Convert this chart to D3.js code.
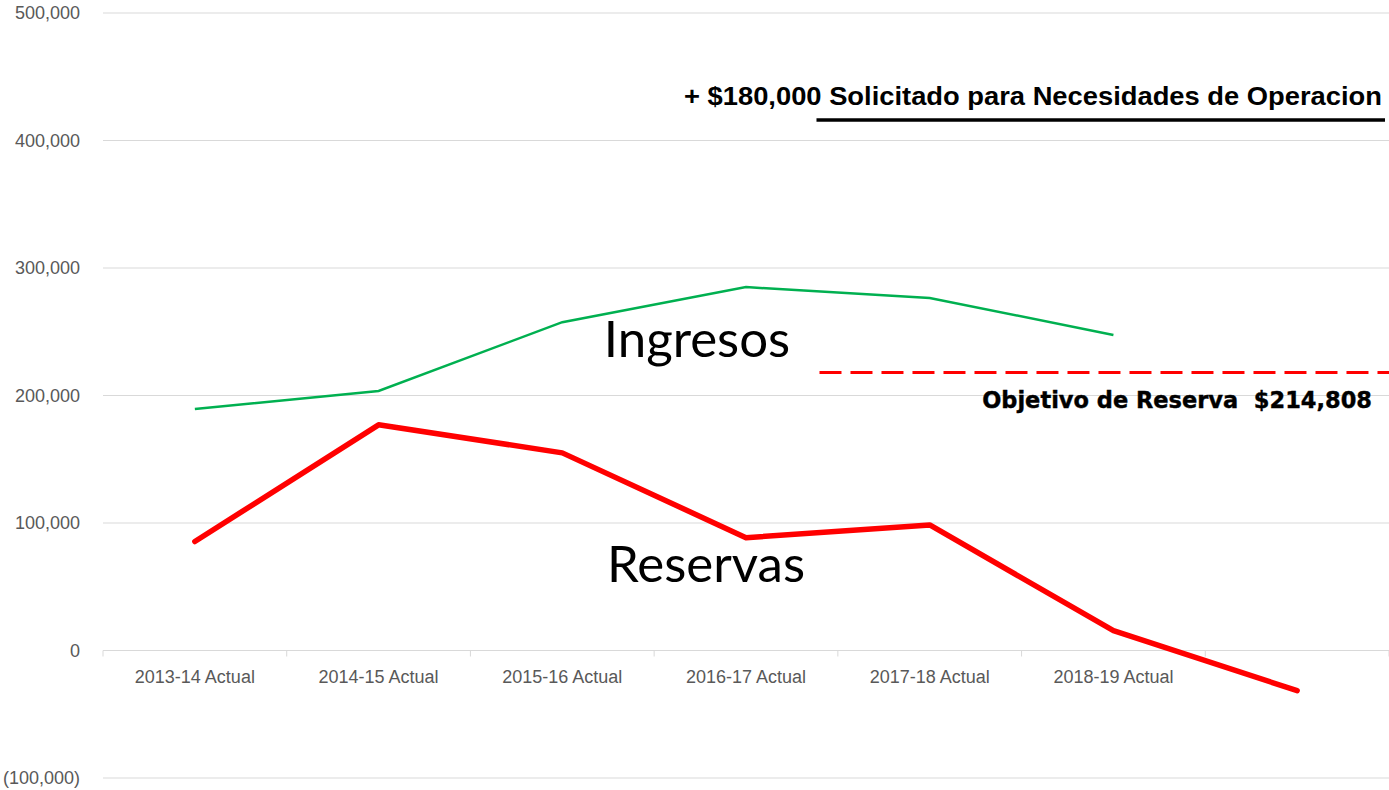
<!DOCTYPE html>
<html>
<head>
<meta charset="utf-8">
<script src="https://cdn.jsdelivr.net/npm/d3@7"></script>
<style>
  body { margin: 0; background: #fff; }
  .tick-label { font-family: "Liberation Sans", Arial, sans-serif; font-size: 18px; fill: #595959; }
  .big-label { font-family: Lato, "Open Sans", sans-serif; font-size: 51px; fill: #000; }
  .note { font-family: "Liberation Sans", Arial, sans-serif; font-weight: bold; fill: #000; }
</style>
</head>
<body>
<div id="chart"></div>
<script>
const categories = ["2013-14 Actual", "2014-15 Actual", "2015-16 Actual", "2016-17 Actual", "2017-18 Actual", "2018-19 Actual", ""];
const ingresos = [189500, 203500, 257500, 285000, 276500, 247500, null];
const reservas = [85500, 177000, 155000, 88500, 98500, 15500, -31500];
const yTicks = [-100000, 0, 100000, 200000, 300000, 400000, 500000];
const reserveTarget = 218000;   // dashed line as drawn
const requestLine = 416000;     // black line under the request note

const W = 1389, H = 790;
const margin = { top: 13, right: 0, bottom: 12, left: 103 };

const svg = d3.select("#chart").append("svg")
  .attr("width", W).attr("height", H);

const x = d3.scaleBand().domain(categories).range([margin.left, W - margin.right]);
const y = d3.scaleLinear().domain([-100000, 500000]).range([H - margin.bottom, margin.top]);

const fmt = v => v < 0 ? `(${d3.format(",")(-v)})` : d3.format(",")(v);

// gridlines + y labels
svg.append("g").selectAll("line").data(yTicks).join("line")
  .attr("x1", margin.left).attr("x2", W - margin.right)
  .attr("y1", d => y(d)).attr("y2", d => y(d))
  .attr("stroke", "#d9d9d9").attr("stroke-width", 1);

svg.append("g").selectAll("text").data(yTicks).join("text")
  .attr("class", "tick-label")
  .attr("x", 80).attr("y", d => y(d) + 6)
  .attr("text-anchor", "end")
  .text(fmt);

// category axis on the zero line
const xAxis = svg.append("g").attr("transform", `translate(0,${y(0)})`);
const bounds = categories.map(c => x(c)).concat([x.range()[1]]);
xAxis.selectAll("line.tk").data(bounds).join("line")
  .attr("class", "tk")
  .attr("x1", d => d).attr("x2", d => d).attr("y1", 0).attr("y2", 6)
  .attr("stroke", "#d9d9d9");
xAxis.selectAll("text").data(categories).join("text")
  .attr("class", "tick-label")
  .attr("x", d => x(d) + x.bandwidth() / 2).attr("y", 32)
  .attr("text-anchor", "middle")
  .text(d => d);

const cx = (d, i) => x(categories[i]) + x.bandwidth() / 2;

const line = d3.line()
  .defined(d => d !== null)
  .x(cx)
  .y(d => y(d));

svg.append("path").datum(ingresos)
  .attr("fill", "none").attr("stroke", "#00b050").attr("stroke-width", 2.5)
  .attr("d", line);

svg.append("path").datum(reservas)
  .attr("fill", "none").attr("stroke", "#ff0000").attr("stroke-width", 5.5)
  .attr("stroke-linejoin", "round").attr("stroke-linecap", "round")
  .attr("d", line);

// annotations
const noteStart = x(categories[3]) + x.bandwidth() * 0.9;

svg.append("line")
  .attr("x1", noteStart).attr("x2", x.range()[1])
  .attr("y1", y(reserveTarget)).attr("y2", y(reserveTarget))
  .attr("stroke", "#ff0000").attr("stroke-width", 3)
  .attr("stroke-dasharray", "22,9");

svg.append("line")
  .attr("x1", noteStart - 3).attr("x2", x.range()[1] - 4)
  .attr("y1", y(requestLine)).attr("y2", y(requestLine))
  .attr("stroke", "#000").attr("stroke-width", 3.5);

svg.append("text").attr("class", "note")
  .attr("x", 1382).attr("y", 105).attr("text-anchor", "end")
  .style("font-size", "25px")
  .attr("textLength", 698).attr("lengthAdjust", "spacingAndGlyphs")
  .text("+ $180,000 Solicitado para Necesidades de Operacion");

svg.append("text").attr("class", "note")
  .attr("x", 1372).attr("y", 408).attr("text-anchor", "end")
  .style("font-size", "22.5px").style("font-family", "'DejaVu Sans', sans-serif")
  .style("stroke", "#000").style("stroke-width", 0.4)
  .attr("xml:space", "preserve")
  .text("Objetivo de Reserva  $214,808");

svg.append("text").attr("class", "big-label")
  .attr("x", 697).attr("y", 357).attr("text-anchor", "middle")
  .text("Ingresos");

svg.append("text").attr("class", "big-label")
  .attr("x", 706).attr("y", 582).attr("text-anchor", "middle")
  .text("Reservas");
</script>
</body>
</html>
